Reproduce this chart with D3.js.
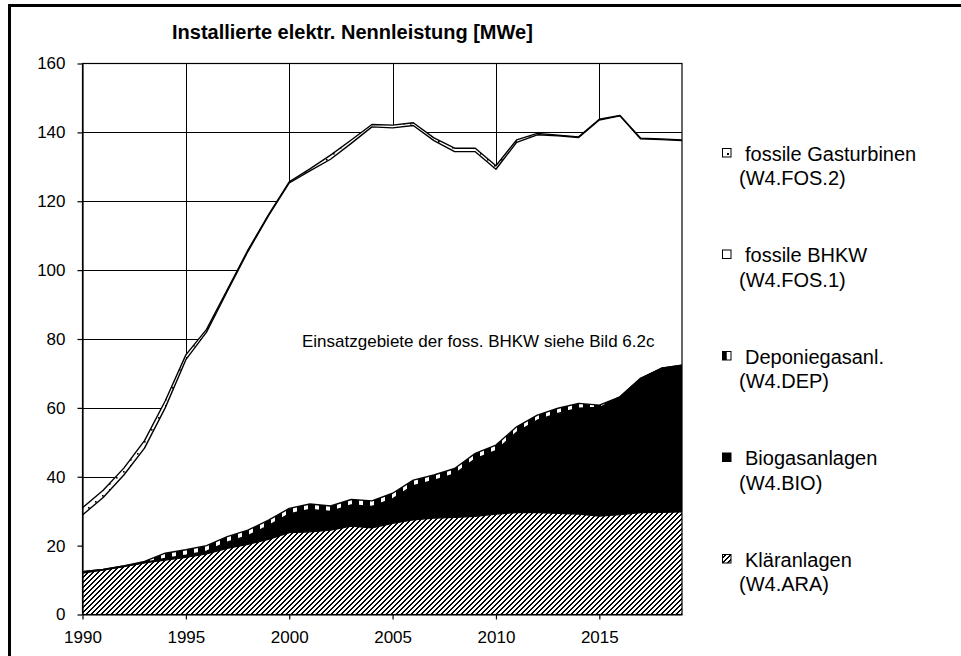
<!DOCTYPE html>
<html>
<head>
<meta charset="utf-8">
<script src="https://cdn.jsdelivr.net/npm/d3@7"></script>
<style>
  html, body { margin: 0; padding: 0; background: #fff; }
  svg { display: block; font-family: "Liberation Sans", Arial, sans-serif; }
</style>
</head>
<body>
<svg id="chart" width="961" height="656"></svg>
<script>
// ---- data (MWe) ----
const years = d3.range(1990, 2020);
const ara  = [12.0,12.9,13.9,15.0,15.8,16.6,17.6,19.2,20.4,21.8,23.8,24.0,24.5,25.7,25.2,26.5,27.5,28.0,28.2,28.5,29.2,29.6,29.6,29.4,29.2,28.6,29.0,29.6,29.7,29.8];
const bio  = [0.4,0.2,0.2,0.1,0.5,0.6,0.8,1.8,2.5,4.0,5.4,6.5,5.4,6.1,6.2,7.1,9.9,10.9,12.6,16.7,18.4,23.3,26.8,29.0,30.7,31.5,34.2,39.0,41.8,42.6];
const dep  = [0,0,0,0.3,1.5,1.6,1.6,1.6,1.6,1.6,1.6,1.6,1.6,1.6,1.6,1.6,1.6,1.6,1.6,1.6,1.6,1.6,1.5,1.5,1.4,0.7,0,0,0,0];
const fos1 = [16.5,20.9,26.4,32.9,42.2,55.2,62.0,71.2,80.9,88.4,94.5,96.7,100.7,103.4,108.6,106.1,103.0,97.1,92.0,87.6,80.1,82.6,81.4,79.1,77.2,82.8,81.6,69.5,66.4,65.2];
const fos2 = [2.1,2.1,2.0,2.2,2.0,1.4,0.8,0.5,0.4,0.3,0.3,0.6,1.2,1.0,0.7,0.8,0.8,0.8,1.0,1.0,1.0,0.7,0.4,0.2,0.2,0.2,0.1,0.2,0.2,0.2];

const seriesKeys = ["ara","bio","dep","fos1","fos2"];
const legendLabels = [
  ["fossile Gasturbinen", "(W4.FOS.2)", "fos2"],
  ["fossile BHKW", "(W4.FOS.1)", "fos1"],
  ["Deponiegasanl.", "(W4.DEP)", "dep"],
  ["Biogasanlagen", "(W4.BIO)", "bio"],
  ["Kläranlagen", "(W4.ARA)", "ara"]
];
const yTicks = d3.range(0, 161, 20);
const xTicks = [1990, 1995, 2000, 2005, 2010, 2015];
const title = "Installierte elektr. Nennleistung [MWe]";
const note = "Einsatzgebiete der foss. BHKW siehe Bild 6.2c";

// ---- layout ----
const svg = d3.select("#chart");
const pL = 82.5, pR = 682, pT = 63.5, pB = 614.5;
const x = d3.scaleLinear().domain([1990, 2019]).range([pL, pR]);
const y = d3.scaleLinear().domain([0, 160]).range([pB, pT]);

const rows = years.map((yr, i) => ({year: yr, ara: ara[i], bio: bio[i], dep: dep[i], fos1: fos1[i], fos2: fos2[i]}));
const stack = d3.stack().keys(seriesKeys)(rows);

svg.append("rect").attr("width", 961).attr("height", 656).attr("fill", "#fff");

// patterns
const defs = svg.append("defs");
const hatch = defs.append("pattern").attr("id", "hatch").attr("patternUnits", "userSpaceOnUse")
  .attr("width", 5).attr("height", 5);
hatch.append("rect").attr("width", 5).attr("height", 5).attr("fill", "#fff");
[[4,0],[0,0],[3,1],[4,1],[2,2],[3,2],[1,3],[2,3],[0,4],[1,4]].forEach(([px, py]) => {
  hatch.append("rect").attr("x", px).attr("y", py).attr("width", 1).attr("height", 1)
    .attr("fill", "#000").attr("shape-rendering", "crispEdges");
});

const stripes = defs.append("pattern").attr("id", "stripes").attr("patternUnits", "userSpaceOnUse")
  .attr("width", 11).attr("height", 8);
stripes.append("rect").attr("width", 11).attr("height", 8).attr("fill", "#000");
stripes.append("rect").attr("x", 7).attr("width", 4).attr("height", 8).attr("fill", "#fff");

const dots = defs.append("pattern").attr("id", "dots").attr("patternUnits", "userSpaceOnUse")
  .attr("width", 7).attr("height", 6);
dots.append("rect").attr("width", 7).attr("height", 6).attr("fill", "#fff");
dots.append("rect").attr("x", 4).attr("y", 3).attr("width", 1.6).attr("height", 1.6).attr("fill", "#000");

const fills = {ara: "url(#hatch)", bio: "#000", dep: "url(#stripes)", fos1: "#fff", fos2: "url(#dots)"};

// outer frame
svg.append("rect").attr("x", 9.5).attr("y", 5.5).attr("width", 1000).attr("height", 700)
  .attr("fill", "none").attr("stroke", "#000").attr("stroke-width", 3);

// gridlines
const grid = svg.append("g").attr("stroke", "#000").attr("stroke-width", 1);
yTicks.filter(v => v > 0 && v < 160).forEach(v => {
  grid.append("line").attr("x1", pL).attr("x2", pR)
    .attr("y1", Math.round(y(v)) + 0.5).attr("y2", Math.round(y(v)) + 0.5);
});
xTicks.filter(v => v > 1990).forEach(v => {
  grid.append("line").attr("y1", pT).attr("y2", pB)
    .attr("x1", Math.round(x(v)) + 0.5).attr("x2", Math.round(x(v)) + 0.5);
});

// areas
const area = d3.area().x(d => x(d.data.year)).y0(d => y(d[0])).y1(d => y(d[1]));
const line = d3.line().x(d => x(d.data.year)).y(d => y(d[1]));
stack.forEach(s => {
  svg.append("path").attr("d", area(s)).attr("fill", fills[s.key]).attr("stroke", "none");
});
stack.forEach(s => {
  svg.append("path").attr("d", line(s)).attr("fill", "none").attr("stroke", "#000")
    .attr("stroke-width", 1.4).attr("stroke-linejoin", "round");
});

// plot border
svg.append("rect").attr("x", pL).attr("y", pT).attr("width", pR - pL).attr("height", pB - pT)
  .attr("fill", "none").attr("stroke", "#000").attr("stroke-width", 1.2);

// axes
const xAxis = d3.axisBottom(x).tickValues(xTicks).tickFormat(d3.format("d")).tickSize(5).tickSizeOuter(0);
const gx = svg.append("g").attr("transform", `translate(0,${pB})`).call(xAxis);
gx.selectAll("text").attr("font-size", 17).attr("fill", "#000").attr("dy", "1.2em")
  .attr("font-family", "'Liberation Sans', Arial, sans-serif");
gx.selectAll("line,path").attr("stroke", "#000").attr("stroke-width", 1.2);

const yAxis = d3.axisLeft(y).tickValues(yTicks).tickSize(5).tickSizeOuter(0).tickPadding(12);
const gy = svg.append("g").attr("transform", `translate(${pL},0)`).call(yAxis);
gy.selectAll("text").attr("font-size", 17).attr("fill", "#000")
  .attr("font-family", "'Liberation Sans', Arial, sans-serif");
gy.selectAll("line,path").attr("stroke", "#000").attr("stroke-width", 1.2);

// title
svg.append("text").attr("x", 172).attr("y", 39).attr("font-size", 20).attr("font-weight", "bold")
  .attr("fill", "#000").text(title);

// annotation
svg.append("text").attr("x", 302).attr("y", 347).attr("font-size", 17).attr("fill", "#000").text(note);

// legend
const lg = svg.append("g");
legendLabels.forEach((item, i) => {
  const base = 160.5 + i * 101.5;
  const g = lg.append("g");
  const mx = 722.5, my = base - 12, ms = 8.5;
  if (item[2] === "dep") {
    g.append("rect").attr("x", mx).attr("y", my).attr("width", ms).attr("height", ms).attr("fill", "#fff");
    g.append("rect").attr("x", mx).attr("y", my).attr("width", ms / 2).attr("height", ms).attr("fill", "#000");
    g.append("rect").attr("x", mx).attr("y", my).attr("width", ms).attr("height", ms)
      .attr("fill", "none").attr("stroke", "#000").attr("stroke-width", 1);
  } else if (item[2] === "fos2") {
    g.append("rect").attr("x", mx).attr("y", my).attr("width", ms).attr("height", ms)
      .attr("fill", "#fff").attr("stroke", "#000").attr("stroke-width", 1);
    g.append("rect").attr("x", mx + 4.5).attr("y", my + 4.5).attr("width", 2).attr("height", 2).attr("fill", "#000");
  } else {
    g.append("rect").attr("x", mx).attr("y", my).attr("width", ms).attr("height", ms)
      .attr("fill", fills[item[2]]).attr("stroke", "#000").attr("stroke-width", 1);
  }
  g.append("text").attr("x", 745).attr("y", base).attr("font-size", 20).attr("fill", "#000").text(item[0]);
  g.append("text").attr("x", 739).attr("y", base + 24.5).attr("font-size", 20).attr("fill", "#000").text(item[1]);
});
</script>
</body>
</html>
